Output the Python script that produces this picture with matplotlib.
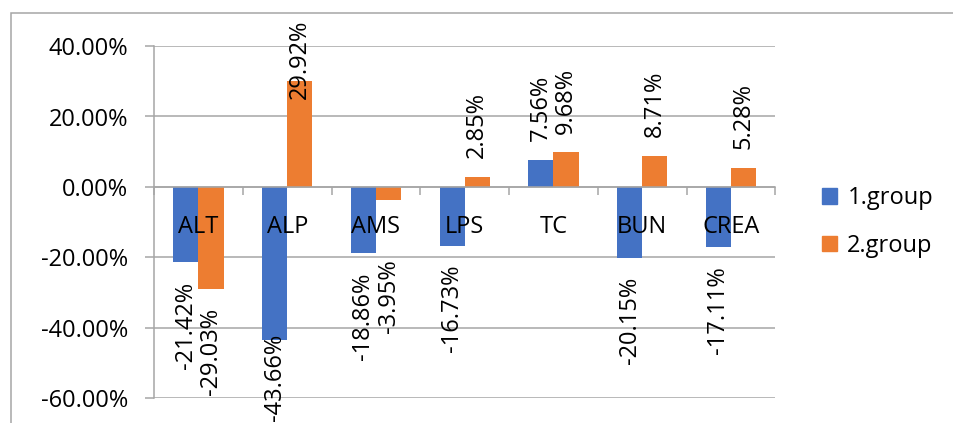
import numpy as np
import matplotlib
matplotlib.use("Agg")
import matplotlib.pyplot as plt
import matplotlib.patches as mpatches
from matplotlib.ticker import FuncFormatter, FixedLocator
from matplotlib.transforms import IdentityTransform

plt.rcParams['font.family'] = ['Open Sans', 'DejaVu Sans']

categories = ['ALT', 'ALP', 'AMS', 'LPS', 'TC', 'BUN', 'CREA']
group1 = [-21.42, -43.66, -18.86, -16.73, 7.56, -20.15, -17.11]
group2 = [-29.03, 29.92, -3.95, 2.85, 9.68, 8.71, 5.28]
series_names = ['1.group', '2.group']

blue = '#4472C4'
orange = '#ED7D31'
grey = '#A6A6A6'
fs = 17

W, H, DPI = 953, 423, 100
fig = plt.figure(figsize=((W + 0.4) / DPI, (H + 0.4) / DPI), dpi=DPI)
ax = fig.add_axes([154 / W, 1 - 398 / H, (775 - 154) / W, (398 - 46) / H])

# chart area border (Excel style)
fig.patches.append(mpatches.Rectangle((11 / W, -0.05), 1.2, 1 - 13 / H + 0.05,
                                      transform=fig.transFigure, fill=False,
                                      edgecolor=grey, lw=1.1))

x = np.arange(len(categories))
width = 0.283
rects1 = ax.bar(x - width / 2, group1, width, color=blue, zorder=2)
rects2 = ax.bar(x + width / 2, group2, width, color=orange, zorder=2)

ax.set_xlim(-0.5, len(categories) - 0.5)
ax.set_ylim(-60, 40)
ax.set_yticks(np.arange(-60, 41, 20))
ax.yaxis.set_major_formatter(FuncFormatter(lambda v, p: '%.2f%%' % v))
ax.set_axisbelow(True)
ax.grid(axis='y', color=grey, lw=1.1)
ax.xaxis.set_zorder(5)

for s in ['top', 'right']:
    ax.spines[s].set_visible(False)
ax.spines['left'].set_color(grey)
ax.spines['left'].set_linewidth(1.1)
ax.spines['bottom'].set_position(('data', 0))
ax.spines['bottom'].set_color(grey)
ax.spines['bottom'].set_linewidth(1.1)
ax.spines['bottom'].set_zorder(4)

ax.set_xticks(x)
ax.set_xticklabels(categories)
ax.xaxis.set_minor_locator(FixedLocator(np.arange(-0.5, len(categories), 1.0)))
ax.tick_params(axis='x', which='major', length=0, pad=20, labelsize=fs)
ax.tick_params(axis='x', which='minor', length=6, width=1.1, color=grey, direction='out')
ax.tick_params(axis='y', length=6.5, width=1.1, color=grey, pad=12, labelsize=fs)

handles = [mpatches.Patch(color=blue, label=series_names[0]),
           mpatches.Patch(color=orange, label=series_names[1])]
fig.legend(handles=handles, loc='center left', bbox_to_anchor=(822 / W, 1 - 222 / H),
           frameon=False, fontsize=fs, handlelength=0.64, handleheight=0.64,
           handletextpad=0.42, labelspacing=1.0, borderpad=0, borderaxespad=0)

# data labels, rotated, "outside end"; kept inside the chart area
# and clear of the category labels, like Excel does
fig.canvas.draw()
renderer = fig.canvas.get_renderer()
cat_bottom = min(l.get_window_extent(renderer).y0 for l in ax.get_xticklabels())
top_lim = H - 19
bot_lim = H - 421
gap = 19
for rects, vals in ((rects1, group1), (rects2, group2)):
    for r, v in zip(rects, vals):
        xc = r.get_x() + r.get_width() / 2
        xd, yd = ax.transData.transform((xc, v))
        t = fig.text(xd, yd, '%.2f%%' % v, transform=IdentityTransform(),
                     rotation=90, ha='center', va='bottom', fontsize=fs, zorder=6)
        h = t.get_window_extent(renderer).height
        if v >= 0:
            y0 = yd + gap
            if y0 + h > top_lim:
                y0 = top_lim - h
        else:
            y1 = min(yd - gap, cat_bottom - 20)
            y0 = y1 - h
            if y0 < bot_lim:
                y0 = bot_lim
        t.set_position((xd, y0))

fig.savefig('out.png', dpi=DPI)
